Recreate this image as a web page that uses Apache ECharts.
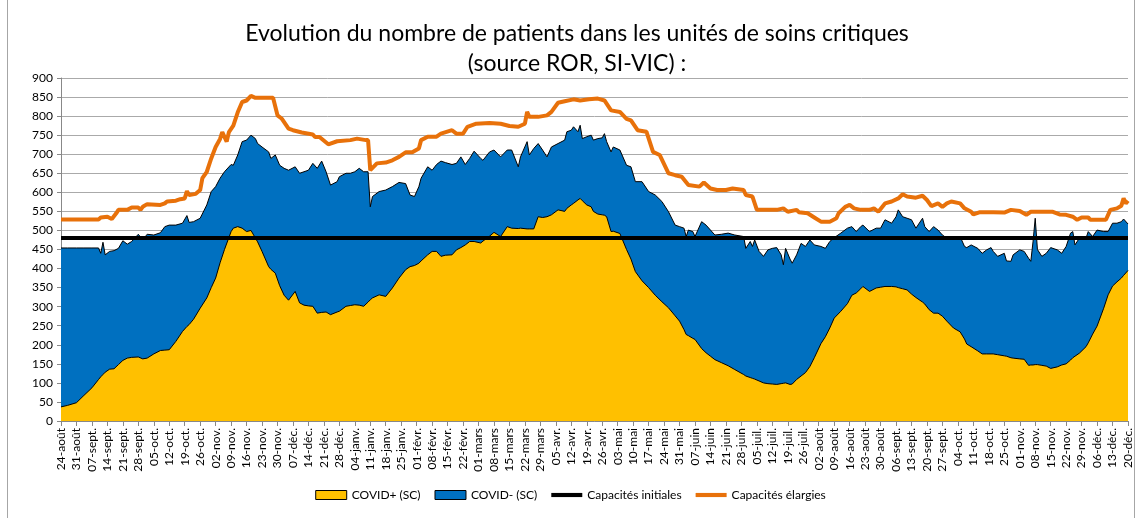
<!DOCTYPE html>
<html><head><meta charset="utf-8">
<script src="https://cdn.jsdelivr.net/npm/echarts@6/dist/echarts.min.js"></script>
<style>html,body{margin:0;padding:0;background:#fff}#c{width:1141px;height:518px}</style>
</head><body><div id="c"></div>
<script>
// Weekly tick labels (one every 7 days, 24 Aug 2020 -> 20 Dec 2021)
const weekLabels = ["24-août","31-août","07-sept.","14-sept.","21-sept.","28-sept.","05-oct.","12-oct.","19-oct.","26-oct.","02-nov.","09-nov.","16-nov.","23-nov.","30-nov.","07-déc.","14-déc.","21-déc.","28-déc.","04-janv.","11-janv.","18-janv.","25-janv.","01-févr.","08-févr.","15-févr.","22-févr.","01-mars","08-mars","15-mars","22-mars","29-mars","05-avr.","12-avr.","19-avr.","26-avr.","03-mai","10-mai","17-mai","24-mai","31-mai","07-juin","14-juin","21-juin","28-juin","05-juil.","12-juil.","19-juil.","26-juil.","02-août","09-août","16-août","23-août","30-août","06-sept.","13-sept.","20-sept.","27-sept.","04-oct.","11-oct.","18-oct.","25-oct.","01-nov.","08-nov.","15-nov.","22-nov.","29-nov.","06-déc.","13-déc.","20-déc."];

// Day index (days since 24-août) of the readings of the two stacked areas
const covidDays = [0,3,7,10,14,17,18,19,20,22,24,26,28,30,32,35,37,39,42,45,47,49,52,55,57,58,60,63,66,68,70,72,74,77,
78,80,82,84,86,88,89,91,94,95,97,99,101,103,106,108,110,112,114,116,118,120,122,125,126,129,131,133,135,137,139,140,141,144,147,150,153,156,158,
160,162,163,166,168,170,172,174,177,179,181,183,185,187,190,191,194,196,199,202,204,207,208,211,212,214,216,218,220,222,225,228,229,231,232,234,235,236,238,
240,241,243,245,246,247,249,250,253,256,258,260,263,266,269,272,275,278,280,282,283,284,286,287,290,292,294,296,299,302,305,309,310,312,313,314,316,318,
320,322,324,326,327,328,330,331,333,335,337,339,341,344,346,348,350,353,356,358,360,362,363,366,369,371,373,376,378,379,381,383,385,387,390,391,393,395,397,399,
401,404,407,409,410,412,415,417,419,421,422,424,427,428,430,431,434,436,438,439,440,441,442,444,446,448,451,453,455,457,458,459,461,464,465,467,469,472,474,476,478,480,481,483];

const covidPlus = [37,41,48,65,87,109,116,122,128,136,137,148,159,165,167,168,163,165,176,185,186,187,209,235,248,253,267,296,323,350,375,415,450,497,
506,510,506,497,500,480,470,445,405,398,388,355,330,317,340,310,304,302,301,283,285,286,279,286,288,301,303,305,304,301,312,318,323,331,327,349,375,397,405,
408,414,420,436,445,445,432,435,436,449,455,462,471,471,467,472,485,495,484,510,506,505,506,504,504,504,536,534,536,541,554,550,558,567,571,580,584,578,567,
562,550,543,541,540,536,497,498,492,450,425,392,368,350,330,313,297,276,262,240,227,224,217,214,190,179,170,161,153,145,135,122,118,114,112,110,105,100,
98,97,96,98,99,100,96,97,109,118,127,143,166,203,221,244,270,288,308,330,336,347,353,340,349,351,353,353,352,350,347,344,333,324,312,307,292,283,283,275,
262,244,234,215,202,195,184,176,176,176,176,174,171,170,166,165,163,162,146,147,147,148,148,146,144,138,142,147,150,160,166,170,178,195,205,228,249,296,331,354,365,375,382,395];

const covidMinus = [417,413,406,389,367,345,324,347,308,309,310,305,314,299,304,322,312,325,312,309,324,327,305,284,291,268,256,236,244,252,240,222,204,176,
165,188,227,240,250,261,258,274,301,291,310,316,333,341,327,340,350,356,375,380,397,368,340,342,353,349,347,349,359,353,342,244,266,271,279,266,251,226,188,
181,201,217,231,213,228,250,243,237,227,238,211,218,237,222,212,221,216,209,201,205,162,187,229,194,211,192,177,157,178,174,187,201,196,201,179,192,163,179,
188,187,198,202,214,197,209,221,219,221,242,236,260,252,263,263,252,238,248,266,257,277,280,270,333,335,331,327,337,348,353,362,335,357,346,365,340,332,
351,356,359,338,311,353,329,317,327,348,331,332,296,255,232,227,211,205,198,180,161,163,161,157,157,155,175,166,184,204,189,188,195,182,220,203,205,227,218,213,
218,236,250,243,253,267,269,264,273,279,269,258,269,250,253,271,286,283,281,272,323,384,302,286,296,317,307,293,308,333,331,292,302,285,292,256,252,201,166,165,154,148,148,122];

// Capacités élargies readings
const capDays = [0,17,18,21,23,25,26,30,32,35,36,37,39,45,47,48,52,54,56,57,58,61,63,64,66,68,70,72,73,75,76,78,80,82,84,86,88,96,98,100,103,105,109,114,115,117,121,125,131,134,138,139,140,143,147,150,153,156,159,162,163,166,170,172,177,179,182,184,188,194,199,203,207,210,211,212,216,220,222,225,228,232,235,239,243,246,249,253,256,258,261,265,268,271,275,278,281,284,289,291,294,297,301,304,309,310,313,315,320,324,327,329,333,334,338,341,344,348,351,352,355,357,359,362,366,368,370,373,376,379,381,383,387,390,392,394,397,399,401,403,407,409,412,413,416,422,427,430,434,437,439,449,452,455,458,460,462,465,466,473,475,478,480,481,482,483];
const capElargies = [529,529,534,536,530,545,554,554,560,560,554,562,569,567,571,576,578,582,584,603,593,596,606,637,654,689,719,740,758,733,758,775,810,837,841,853,848,848,802,793,767,763,757,752,745,745,726,734,737,741,737,737,658,676,678,684,693,705,705,715,737,746,746,754,763,754,754,772,780,782,780,774,772,780,811,798,798,802,811,835,839,844,841,844,846,841,815,811,793,789,763,759,706,698,650,645,641,619,615,626,610,606,606,610,606,593,589,554,554,554,558,549,554,548,545,534,523,523,532,545,562,567,558,554,554,558,549,571,576,584,595,589,586,591,580,564,571,562,571,576,571,558,549,542,548,548,547,554,551,541,549,549,542,541,536,528,534,534,528,528,554,558,565,584,571,578];

const capInitiales = 480;
const lastDay = 483;

const pair = (xs, ys) => xs.map((x, i) => [x, ys[i]]);
// top of the stack = COVID+ + COVID-
const covidStackTop = covidPlus.map((v, i) => v + covidMinus[i]);
const FONT = 'Lato';
const LINE_ICON = 'path://M0,0L30,0L30,4L0,4Z';

const chart = echarts.init(document.getElementById('c'), null, {renderer: 'canvas'});
chart.setOption({
  animation: false,
  backgroundColor: '#fff',
  textStyle: {fontFamily: FONT, color: '#000'},
  title: {
    text: 'Evolution du nombre de patients dans les unités de soins critiques\n(source ROR, SI-VIC) :',
    left: 572, top: 14, textAlign: 'center',
    textStyle: {fontFamily: FONT, fontSize: 23, fontWeight: 'normal', color: '#000', lineHeight: 30, align: 'center'}
  },
  graphic: [{
    type: 'rect', silent: true, z: -1,
    shape: {x: 7.5, y: -1, width: 1127, height: 521},
    style: {fill: 'none', stroke: '#a6a6a6', lineWidth: 1}
  }],
  legend: {
    bottom: 12, left: 'center',
    itemWidth: 31, itemHeight: 9, itemGap: 14,
    textStyle: {fontFamily: FONT, fontSize: 12, color: '#000'},
    data: [
      {name: 'COVID+ (SC)', icon: 'rect', itemStyle: {color: '#FFC000', borderColor: '#000', borderWidth: 1}},
      {name: 'COVID- (SC)', icon: 'rect', itemStyle: {color: '#0070C0', borderColor: '#000', borderWidth: 1}},
      {name: 'Capacités initiales', icon: LINE_ICON, itemStyle: {color: '#000', borderWidth: 0}},
      {name: 'Capacités élargies', icon: LINE_ICON, itemStyle: {color: '#E8710A', borderWidth: 0}}
    ]
  },
  grid: {left: 61, right: 13, top: 78, bottom: 97},
  xAxis: {
    type: 'value', min: 0, max: lastDay, interval: 7,
    axisLine: {lineStyle: {color: '#888', width: 1}},
    axisTick: {show: true, length: 5, lineStyle: {color: '#888'}},
    splitLine: {show: false},
    axisLabel: {
      rotate: 90, margin: 7, fontSize: 12, fontFamily: FONT, color: '#000',
      formatter: v => (v % 7 === 0 ? (weekLabels[v / 7] || '') : '')
    }
  },
  yAxis: {
    type: 'value', min: 0, max: 900, interval: 50,
    axisLine: {show: true, lineStyle: {color: '#888'}},
    axisTick: {show: true, length: 4, lineStyle: {color: '#888'}},
    splitLine: {lineStyle: {color: '#aaaaaa', width: 1}},
    axisLabel: {fontSize: 12, fontFamily: FONT, color: '#000', margin: 8}
  },
  series: [
    {
      name: 'COVID- (SC)', type: 'line', symbol: 'none',
      data: pair(covidDays, covidStackTop),
      lineStyle: {color: '#000', width: 1},
      itemStyle: {color: '#0070C0'},
      areaStyle: {color: '#0070C0', opacity: 1},
      z: 1
    },
    {
      name: 'COVID+ (SC)', type: 'line', symbol: 'none',
      data: pair(covidDays, covidPlus),
      lineStyle: {color: '#000', width: 1},
      itemStyle: {color: '#FFC000'},
      areaStyle: {color: '#FFC000', opacity: 1},
      z: 2
    },
    {
      name: 'Capacités initiales', type: 'line', symbol: 'none',
      data: [[0, capInitiales], [lastDay, capInitiales]],
      lineStyle: {color: '#000', width: 4},
      itemStyle: {color: '#000'},
      z: 3
    },
    {
      name: 'Capacités élargies', type: 'line', symbol: 'none',
      data: pair(capDays, capElargies),
      lineStyle: {color: '#E8710A', width: 4},
      itemStyle: {color: '#E8710A'},
      z: 4
    }
  ]
});
</script>
</body></html>
